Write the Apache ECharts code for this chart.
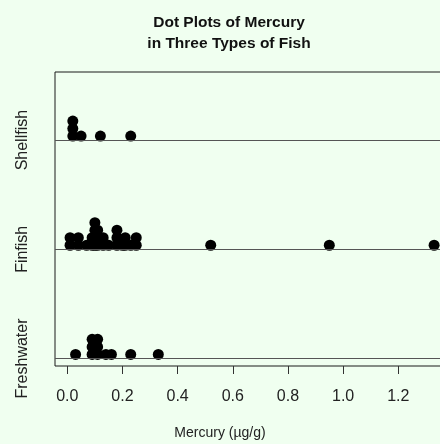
<!DOCTYPE html>
<html>
<head>
<meta charset="utf-8">
<script src="https://cdn.jsdelivr.net/npm/echarts@6/dist/echarts.min.js"></script>
<style>
  html, body { margin: 0; padding: 0; background: #F0FFF0; }
  #chart { width: 440px; height: 444px; }
</style>
</head>
<body>
<div id="chart"></div>
<script>
// Mercury concentration (µg/g) measured in three kinds of fish
const fishTypes = ['Freshwater', 'Finfish', 'Shellfish'];
const freshwater = [0.03, 0.09, 0.09, 0.09, 0.11, 0.11, 0.11, 0.14, 0.16, 0.23, 0.33];
const finfish = [0.01, 0.01, 0.04, 0.04, 0.07, 0.09, 0.09, 0.10, 0.10, 0.10, 0.10,
                 0.11, 0.11, 0.11, 0.13, 0.13, 0.15, 0.18, 0.18, 0.18, 0.20, 0.21,
                 0.21, 0.23, 0.25, 0.25, 0.52, 0.95, 1.33];
const shellfish = [0.02, 0.02, 0.02, 0.05, 0.12, 0.23];
const xTicks = [0, 0.2, 0.4, 0.6, 0.8, 1.0, 1.2];

const FONT = 'Liberation Sans, Arial, sans-serif';

// Stack repeated values upward above their category line
const STACK_BASE = 0.037;
const STACK_STEP = 0.069;
function stacked(values, level) {
  const seen = {};
  return values.map(v => {
    const key = v.toFixed(3);
    const k = seen[key] || 0;
    seen[key] = k + 1;
    return [v, level + STACK_BASE + k * STACK_STEP];
  });
}

const groups = [freshwater, finfish, shellfish];
const levels = [1, 2, 3];

const series = groups.map((vals, i) => ({
  type: 'scatter',
  name: fishTypes[i],
  data: stacked(vals, levels[i]),
  symbol: 'circle',
  symbolSize: 11,
  itemStyle: { color: '#000', opacity: 1 },
  silent: true,
  z: 3
}));

// Horizontal reference line for each category
series.push({
  type: 'line',
  data: [],
  markLine: {
    silent: true,
    symbol: 'none',
    label: { show: false },
    lineStyle: { color: '#555', width: 1.2, type: 'solid' },
    data: levels.map(l => ({ yAxis: l }))
  }
});

const chart = echarts.init(document.getElementById('chart'), null, { renderer: 'canvas' });
chart.setOption({
  animation: false,
  backgroundColor: '#F0FFF0',
  textStyle: { fontFamily: FONT },
  title: {
    text: 'Dot Plots of Mercury\nin Three Types of Fish',
    left: 224,
    top: 7,
    textAlign: 'center',
    textStyle: {
      fontFamily: FONT,
      fontWeight: 'bold',
      fontSize: 15.5,
      lineHeight: 21,
      color: '#111'
    }
  },
  graphic: [{
    type: 'text',
    x: 220,
    y: 433,
    style: {
      text: 'Mercury (µg/g)',
      font: '14px ' + FONT,
      fill: '#222',
      align: 'center',
      verticalAlign: 'middle'
    }
  }],
  grid: {
    left: 55, top: 72, width: 399, height: 294,
    outerBoundsMode: 'none',
    containLabel: false,
    show: true,
    borderColor: '#1a1a1a',
    borderWidth: 1,
    backgroundColor: 'transparent'
  },
  xAxis: {
    type: 'value',
    min: -0.0446,
    max: 1.4021,
    axisLine: { show: false },
    splitLine: { show: false },
    axisTick: {
      show: true, inside: false, length: 8,
      customValues: xTicks,
      lineStyle: { color: '#333', width: 1 }
    },
    axisLabel: {
      customValues: xTicks,
      formatter: v => v.toFixed(1),
      fontSize: 16,
      color: '#222',
      margin: 23,
      fontFamily: FONT
    }
  },
  yAxis: {
    type: 'value',
    min: 0.931,
    max: 3.624,
    axisLine: { show: false },
    splitLine: { show: false },
    axisTick: {
      show: true, inside: false, length: 10,
      customValues: levels,
      lineStyle: { color: '#333', width: 1 }
    },
    axisLabel: {
      customValues: levels,
      formatter: v => fishTypes[Math.round(v) - 1],
      rotate: 90,
      fontSize: 16,
      color: '#222',
      margin: 24,
      fontFamily: FONT
    }
  },
  series: series
});
</script>
</body>
</html>
